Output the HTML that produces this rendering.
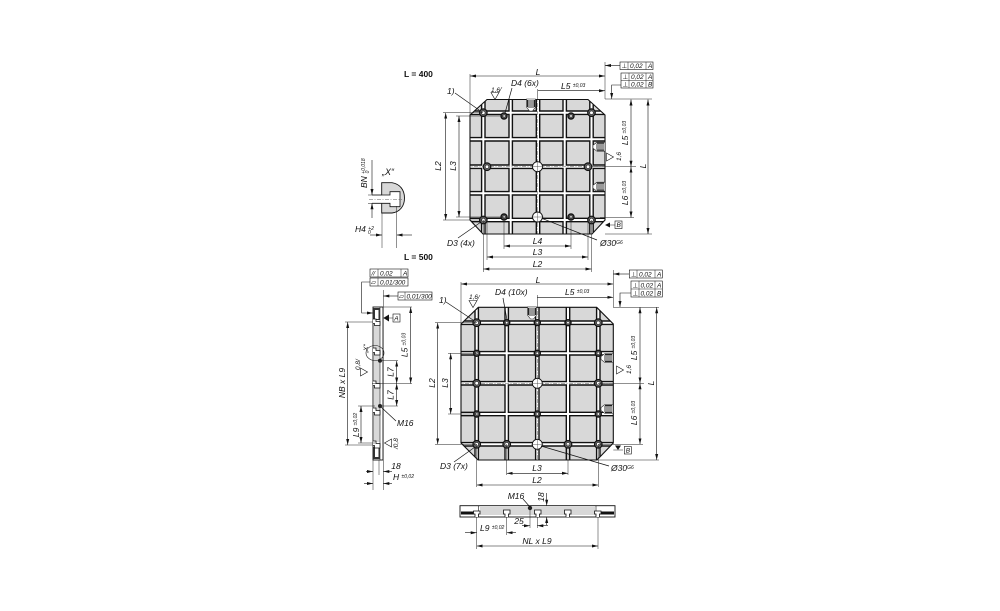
<!DOCTYPE html>
<html><head><meta charset="utf-8"><style>
html,body{margin:0;padding:0;background:#fff}
svg{display:block;filter:blur(.3px)}
text{font-family:"Liberation Sans","DejaVu Sans",sans-serif;font-style:italic;font-size:8.5px;fill:#111}
.m{text-anchor:middle}
.s{font-size:5px}
.b{font-weight:bold;font-style:normal;font-size:8.5px}
.t{font-size:6.5px}
.d{stroke:#111;stroke-width:.6;fill:none;marker-start:url(#a);marker-end:url(#a)}
.e{stroke:#222;stroke-width:.5;fill:none}
.l{stroke:#111;stroke-width:.7;fill:none}
.ar{stroke:#111;stroke-width:.6;fill:none;marker-end:url(#a)}
.box{fill:#fff;stroke:#111;stroke-width:.6}
.go{stroke:#111;stroke-width:4.8;fill:none}
.gi{stroke:#fff;stroke-width:2;fill:none}
.cl{stroke:#555;stroke-width:.5;stroke-dasharray:4 1.5 1 1.5;fill:none}
.tri{fill:#fff;stroke:#111;stroke-width:.6}
</style></head><body>
<svg width="1000" height="611" viewBox="0 0 1000 611" xmlns="http://www.w3.org/2000/svg">
<defs>
<marker id="a" orient="auto-start-reverse" markerWidth="6" markerHeight="4" refX="6" refY="2" markerUnits="userSpaceOnUse"><path d="M0 .5L6 2L0 3.5Z" fill="#111"/></marker>
<clipPath id="c1"><polygon points="487,99.5 588,99.5 605,115 605,220 592,234 483,234 470,220 470,115"/></clipPath>
<clipPath id="c2"><polygon points="478.3,307.3 596.7,307.3 613.3,324 613.3,443 597,460 478,460 461,443 461,324"/></clipPath>
<g id="h1"><circle r="4.4" fill="#111"/><circle r="3.2" fill="#666"/><circle r="1.8" fill="#fff" stroke="#111" stroke-width=".6"/></g>
<g id="h2"><circle r="3.7" fill="#111"/><circle r="2.4" fill="#555"/><circle r="1.2" fill="#fff" stroke="#111" stroke-width=".4"/></g>
<g id="big"><circle r="5" fill="#fff" stroke="#111" stroke-width=".9"/><path d="M-6 0H6M0-6V6" stroke="#333" stroke-width=".4"/></g>
<g id="th"><path d="M-6-4.5L2-4.5L6-1.5V1.5L2 4.5L-6 4.5Z" fill="#fff" stroke="#222" stroke-width=".6"/><path d="M-5-3.5H2M-5 3.5H2" stroke="#222" stroke-width="1.2"/><path d="M-4-3V3M-2-3V3M0-3V3M2-3V3" stroke="#333" stroke-width="1"/></g>
<g id="rt"><path d="M-4-3.5H4L0 3.5Z" class="tri"/></g>
</defs>

<!-- Labels -->
<text class="b" x="404" y="77">L = 400</text>
<text class="b" x="404" y="260">L = 500</text>

<!-- Plate 1 -->
<polygon points="487,99.5 588,99.5 605,115 605,220 592,234 483,234 470,220 470,115" fill="#d8d8d8"/>
<g clip-path="url(#c1)">
<path class="go" d="M483.3 99V234M510.7 99V234M538 99V234M564.7 99V234M591.5 99V234M470 112.7H605M470 139.3H605M470 166.7H605M470 193.3H605M470 220H605"/>
<path class="gi" d="M483.3 99V234M510.7 99V234M538 99V234M564.7 99V234M591.5 99V234M470 112.7H605M470 139.3H605M470 166.7H605M470 193.3H605M470 220H605"/>
<path class="cl" d="M466 166.7H610M537.7 95V238"/>
</g>
<polygon points="487,99.5 588,99.5 605,115 605,220 592,234 483,234 470,220 470,115" fill="none" stroke="#111" stroke-width="1.1"/>
<use href="#h1" x="483.3" y="112.7"/><use href="#h1" x="591.5" y="112.7"/><use href="#h1" x="483.3" y="220"/><use href="#h1" x="591.5" y="220"/>
<use href="#h1" x="487" y="166.7"/><use href="#h1" x="588" y="166.7"/>
<use href="#h2" x="504" y="116"/><use href="#h2" x="571" y="116"/><use href="#h2" x="504" y="217"/><use href="#h2" x="571" y="217"/>
<use href="#big" x="537.5" y="166.7"/><use href="#big" x="537.5" y="217"/>
<use href="#th" transform="translate(531,105) rotate(90)"/>
<use href="#th" transform="translate(599,146.7) rotate(180)"/>
<use href="#th" transform="translate(599,186.7) rotate(180)"/>

<!-- Plate 1 dims -->
<path class="e" d="M470 74V115M605 62V99M537.7 89V100M483.3 220V272M591.5 220V272M504 217V249M571 217V249M487 220V260M588 220V260M605 99H652M605 234H652M443 112.7H483M456 116H504M443 220H483M456 217H504M592 166.7H636M600 217.5H634"/>
<path class="d" d="M470 76H605"/>
<path class="ar" d="M538 90.7H605"/>
<path class="d" d="M648 99.5V234"/>
<path class="d" d="M631 99.5V166.7"/><path class="d" d="M631 166.7V217.5"/>
<path class="d" d="M445.7 112.7V220"/><path class="d" d="M459 116V217"/>
<path class="d" d="M504 246H571"/><path class="d" d="M487 257H588"/><path class="d" d="M483.3 269H591.5"/>
<text class="m" x="538" y="75">L</text>
<text x="561" y="89">L5 <tspan class="s" dy="-2">±0,03</tspan></text>
<text class="m" x="537.5" y="244">L4</text><text class="m" x="537.5" y="255">L3</text><text class="m" x="537.5" y="267">L2</text>
<text class="m" transform="rotate(-90 441 166)" x="441" y="166">L2</text>
<text class="m" transform="rotate(-90 456 166)" x="456" y="166">L3</text>
<text class="m" transform="rotate(-90 646 166)" x="646" y="166">L</text>
<text class="m" transform="rotate(-90 628 133)" x="628" y="133">L5 <tspan class="s" dy="-2">±0,03</tspan></text>
<text class="m" transform="rotate(-90 628 193)" x="628" y="193">L6 <tspan class="s" dy="-2">±0,03</tspan></text>
<text x="447" y="94">1)</text>
<path class="l" d="M455 93L479 110"/>
<text x="511" y="86">D4 (6x)</text>
<path class="l" d="M512 88L505 113"/>
<text class="t" x="491" y="92">1,6</text><use href="#rt" x="495" y="96"/><path class="e" d="M499 92.5L502 87"/>
<text x="447" y="246">D3 (4x)</text><path class="l" d="M481 222L458 238"/>
<text x="600" y="246">Ø30<tspan class="s" dy="-2">G6</tspan></text><path class="l" d="M541.7 218.3L597 240"/>
<g transform="translate(610,157) rotate(-90)"><use href="#rt"/><text class="t" x="-4" y="11">1,6</text></g>
<path d="M605 225L610 222.5V227.5Z" fill="#111"/><path class="e" d="M610 225H615"/>
<rect class="box" x="615" y="221" width="7" height="7.5"/><text class="t" x="616.5" y="227">B</text>
<!-- FCF 1 -->
<path class="ar" d="M620 65.5H605"/>
<rect class="box" x="620" y="62" width="33" height="7.5"/><path class="e" d="M628 62V69.5M646 62V69.5"/>
<text class="t" x="621.5" y="68">⊥</text><text class="t" x="630" y="68">0,02</text><text class="t" x="648" y="68">A</text>
<rect class="box" x="621" y="73" width="32" height="15"/><path class="e" d="M621 80.5H653M629 73V88M646 73V88"/>
<text class="t" x="622.5" y="79">⊥</text><text class="t" x="631" y="79">0,02</text><text class="t" x="648" y="79">A</text>
<text class="t" x="622.5" y="86.5">⊥</text><text class="t" x="631" y="86.5">0,02</text><text class="t" x="648" y="86.5">B</text>
<path class="ar" d="M621 85H611.7V99"/>

<!-- Plate 2 -->
<polygon points="478.3,307.3 596.7,307.3 613.3,324 613.3,443 597,460 478,460 461,443 461,324" fill="#d8d8d8"/>
<g clip-path="url(#c2)">
<path class="go" d="M476.7 305V462M506.7 305V462M537.3 305V462M568 305V462M598.3 305V462M459 322.7H615M459 353.3H615M459 383.3H615M459 414H615M459 444.3H615"/>
<path class="gi" d="M476.7 305V462M506.7 305V462M537.3 305V462M568 305V462M598.3 305V462M459 322.7H615M459 353.3H615M459 383.3H615M459 414H615M459 444.3H615"/>
<path class="cl" d="M457 383.3H617M537.3 303V464"/>
</g>
<polygon points="478.3,307.3 596.7,307.3 613.3,324 613.3,443 597,460 478,460 461,443 461,324" fill="none" stroke="#111" stroke-width="1.1"/>
<use href="#h1" x="476.7" y="322.7"/><use href="#h1" x="598.3" y="322.7"/><use href="#h2" x="506.7" y="322.7"/><use href="#h2" x="537.3" y="322.7"/><use href="#h2" x="568" y="322.7"/>
<use href="#h2" x="476.7" y="353.3"/><use href="#h2" x="537.3" y="353.3"/><use href="#h2" x="598.3" y="353.3"/>
<use href="#h1" x="476.7" y="383.3"/><use href="#big" x="537.3" y="383.3"/><use href="#h1" x="598.3" y="383.3"/>
<use href="#h2" x="476.7" y="414"/><use href="#h2" x="537.3" y="414"/><use href="#h2" x="598.3" y="414"/>
<use href="#h1" x="476.7" y="444.3"/><use href="#h1" x="506.7" y="444.3"/><use href="#big" x="537.3" y="444.3"/><use href="#h1" x="568" y="444.3"/><use href="#h1" x="598.3" y="444.3"/>
<use href="#th" transform="translate(532,313) rotate(90)"/>
<use href="#th" transform="translate(607,358) rotate(180)"/>
<use href="#th" transform="translate(607,409) rotate(180)"/>

<!-- Plate 2 dims -->
<path class="e" d="M461 282V324M613.3 270V307M537.3 295V308M476.7 444V487M598.3 444V487M506.7 444V475M568 444V475M613 307.3H659M597 460H659M435 322.7H477M448 353.3H477M448 414H477M435 444.3H477M598 383.3H644M598 444.3H643"/>
<path class="d" d="M461 284H613.3"/>
<path class="ar" d="M537.3 297.3H613.3"/>
<path class="d" d="M656.7 307.3V460"/>
<path class="d" d="M640 307.3V383.3"/><path class="d" d="M640 383.3V444.3"/>
<path class="d" d="M437.7 322.7V444.3"/><path class="d" d="M450.7 353.3V414"/>
<path class="d" d="M506.7 473.3H568"/><path class="d" d="M476.7 485H598.3"/>
<text class="m" x="538" y="283">L</text>
<text x="565" y="295">L5 <tspan class="s" dy="-2">±0,03</tspan></text>
<text class="m" x="537" y="471">L3</text><text class="m" x="537" y="483">L2</text>
<text class="m" transform="rotate(-90 435 383)" x="435" y="383">L2</text>
<text class="m" transform="rotate(-90 448 383)" x="448" y="383">L3</text>
<text class="m" transform="rotate(-90 654 383)" x="654" y="383">L</text>
<text class="m" transform="rotate(-90 637 348)" x="637" y="348">L5 <tspan class="s" dy="-2">±0,03</tspan></text>
<text class="m" transform="rotate(-90 637 413)" x="637" y="413">L6 <tspan class="s" dy="-2">±0,03</tspan></text>
<text x="439" y="303">1)</text><path class="l" d="M446 302L473 320"/>
<text x="495" y="295">D4 (10x)</text><path class="l" d="M503 298L507 320"/>
<text class="t" x="469" y="299">1,6</text><use href="#rt" x="473" y="304"/><path class="e" d="M477 300.5L480 295"/>
<text x="440" y="469">D3 (7x)</text><path class="l" d="M475 447L454 462"/>
<text x="611" y="471">Ø30<tspan class="s" dy="-2">G6</tspan></text><path class="l" d="M541 446L609 466"/>
<g transform="translate(620,370) rotate(-90)"><use href="#rt"/><text class="t" x="-4" y="11">1,6</text></g>
<path d="M613.3 450H623" class="e"/><path d="M618 450L615 445.5H621Z" fill="#111"/>
<rect class="box" x="624.3" y="446.5" width="7" height="7.5"/><text class="t" x="625.8" y="452.5">B</text>
<!-- FCF 2 -->
<path class="ar" d="M629 274H613.3"/>
<rect class="box" x="629.3" y="270" width="33" height="8"/><path class="e" d="M637 270V278M655 270V278"/>
<text class="t" x="631" y="276.3">⊥</text><text class="t" x="639" y="276.3">0,02</text><text class="t" x="657" y="276.3">A</text>
<rect class="box" x="631" y="281" width="31.3" height="16"/><path class="e" d="M631 289H662.3M639 281V297M655 281V297"/>
<text class="t" x="632.5" y="287.3">⊥</text><text class="t" x="640.5" y="287.3">0,02</text><text class="t" x="657" y="287.3">A</text>
<text class="t" x="632.5" y="295.3">⊥</text><text class="t" x="640.5" y="295.3">0,02</text><text class="t" x="657" y="295.3">B</text>
<path class="ar" d="M631 293H620V307"/>

<!-- Side view -->
<rect x="373" y="307" width="10" height="153" fill="#fff" stroke="#111" stroke-width=".9"/>
<rect x="374" y="325" width="6" height="117" fill="#d8d8d8"/>
<path d="M380 307V460" stroke="#222" stroke-width=".6"/>
<path d="M373.5 308H380V320H373.5ZM373.5 447H380V459H373.5Z" fill="#333"/>
<path d="M375 310H378.5V319H375ZM375 448H378.5V457H375Z" fill="#fff"/>
<path d="M373 319H376V321.5H380V325.5H374.5V323.5H373M373 348H376V350.5H380V355H374.5V352.5H373M373 381H376V383.5H380V388H374.5V385.5H373M373 408H376V410.5H380V415H374.5V412.5H373M373 441H376V443.5H380V448H374.5V445.5H373" fill="#fff" stroke="#111" stroke-width=".8"/>
<circle cx="380" cy="360.7" r="2" fill="#222"/><circle cx="380" cy="406" r="2" fill="#222"/>
<ellipse cx="375" cy="353" rx="9" ry="7.5" fill="none" stroke="#111" stroke-width=".6"/>
<path class="e" d="M383.3 290V490M373 460V490M379 460V475M383 307H412M372 383.5H412M380 360.7H398M380 406H398M345 322H373M345 445H373M358 406H375M358 443H375"/>
<path class="d" d="M410.7 307V383.5"/>
<path class="d" d="M396.7 360.7V383.5"/><path class="d" d="M396.7 383.5V406"/>
<path class="d" d="M347.7 322V445"/>
<path class="d" d="M361 406V443"/>
<text class="m" transform="rotate(-90 407.5 345)" x="407.5" y="345">L5 <tspan class="s" dy="-2">±0,03</tspan></text>
<text class="m" transform="rotate(-90 393.5 372)" x="393.5" y="372">L7</text>
<text class="m" transform="rotate(-90 393.5 395)" x="393.5" y="395">L7</text>
<text class="m" transform="rotate(-90 345 383)" x="345" y="383">NB x L9</text>
<text class="m" transform="rotate(-90 359 425)" x="359" y="425">L9 <tspan class="s" dy="-2">±0,02</tspan></text>
<text transform="rotate(-90 368 346)" x="361" y="346" class="t">„X“</text>
<text x="397" y="426">M16</text><path class="l" d="M396 421L381 407"/>
<text class="m" x="396" y="469">18</text>
<path class="ar" d="M366 471.5H373"/><path class="ar" d="M392 471.5H383.3"/>
<text x="393" y="480">H <tspan class="s" dy="-2">±0,02</tspan></text>
<path class="ar" d="M364 483.5H373"/><path class="ar" d="M392 483.5H383.3"/>
<g transform="translate(364,372) rotate(-90)"><use href="#rt"/></g><text class="t" transform="rotate(-90 362 368)" x="360" y="366">0,8/</text>
<g transform="translate(388,443) rotate(90)"><use href="#rt"/></g><text class="t" transform="rotate(-90 396 445)" x="392" y="447">/0,8</text>
<path class="ar" d="M398 296H383.3"/>
<rect class="box" x="398" y="292" width="34" height="8"/><path class="e" d="M405 292V300"/>
<text class="t" x="399" y="298.3">▱</text><text class="t" x="406.5" y="298.3">0,01/300</text>
<path d="M383.3 318L389 314.5V321.5Z" fill="#111"/><path class="e" d="M388 318H393"/>
<rect class="box" x="393" y="314" width="7" height="8"/><text class="t" x="394.3" y="320.3">A</text>
<rect class="box" x="370" y="269" width="38" height="8"/><path class="e" d="M378 269V277M401 269V277"/>
<text class="t" x="371.5" y="275.3">//</text><text class="t" x="380" y="275.3">0,02</text><text class="t" x="403" y="275.3">A</text>
<rect class="box" x="370" y="278" width="38" height="8"/><path class="e" d="M378 278V286"/>
<text class="t" x="371" y="284.3">▱</text><text class="t" x="380" y="284.3">0,01/300</text>
<path class="ar" d="M370 282H361.7V313H373"/>

<!-- Detail X -->
<path d="M381.7 182.7H392C400 184 404.5 190 404.5 198C404.5 206 400 212 392 213H381.7Z" fill="#d8d8d8" stroke="#111" stroke-width=".9"/>
<path d="M372 195H390V191.7H400V206.7H390V203.3H372" fill="#fff" stroke="#111" stroke-width=".8"/>
<path d="M369 199.3H402" stroke="#333" stroke-width=".4" stroke-dasharray="4 1.5 1 1.5"/>
<path class="e" d="M382 213V248M396.7 206V248M368 195H382M368 203.3H382"/>
<path class="ar" d="M372 160V195"/><path class="ar" d="M372 218V203.3"/>
<path class="ar" d="M370 235H382"/><path class="ar" d="M412 235H396.7"/>
<text class="m" x="388" y="175" style="font-size:9px">„X“</text>
<text transform="rotate(-90 367 188)" x="367" y="188">BN <tspan class="s" dy="-2">+0,018</tspan><tspan class="s" dy="4" dx="-15">0</tspan></text>
<text x="355" y="232">H4 <tspan class="s" dy="-2">+2</tspan><tspan class="s" dy="4" dx="-6">0</tspan></text>

<!-- Bottom view -->
<rect x="460" y="505.7" width="155" height="11.3" fill="#fff" stroke="#111" stroke-width=".9"/>
<rect x="480" y="507" width="115" height="8" fill="#d8d8d8"/>
<path d="M461 513H478M597 513H614" stroke="#111" stroke-width="3"/>
<path d="M478.5 505.7V517M596 505.7V517" stroke="#111" stroke-width=".6"/>
<path d="M475 517V514H473.5V511H480V514H478.5V517M505 517V514H503.5V510H510V514H508.5V517M536 517V514H534.5V510H541V514H539.5V517M566 517V514H564.5V510H571V514H569.5V517M596 517V514H594.5V511H601V514H599.5V517" fill="#fff" stroke="#111" stroke-width=".8"/>
<circle cx="530" cy="508" r="2.2" fill="#222"/>
<path class="e" d="M476.7 517V549M598 517V549M506.7 517V535M530 508V528M537.3 517V528M546.7 505.7H540M546.7 517H540"/>
<text class="m" x="516" y="499">M16</text><path class="l" d="M523 499L530 507"/>
<text class="m" transform="rotate(-90 544 497)" x="544" y="497">18</text>
<path class="ar" d="M546.7 493V505.7"/><path class="ar" d="M546.7 525V517"/>
<text class="m" x="519" y="524">25</text><path class="ar" d="M522 525.7H530"/><path class="ar" d="M548 525.7H537.3"/>
<text x="480" y="531">L9 <tspan class="s" dy="-2">±0,02</tspan></text>
<path class="ar" d="M465 532.7H476.7"/><path class="ar" d="M516 532.7H506.7"/>
<path class="d" d="M476.7 546H598"/>
<text class="m" x="537" y="544">NL x L9</text>
</svg>
</body></html>
